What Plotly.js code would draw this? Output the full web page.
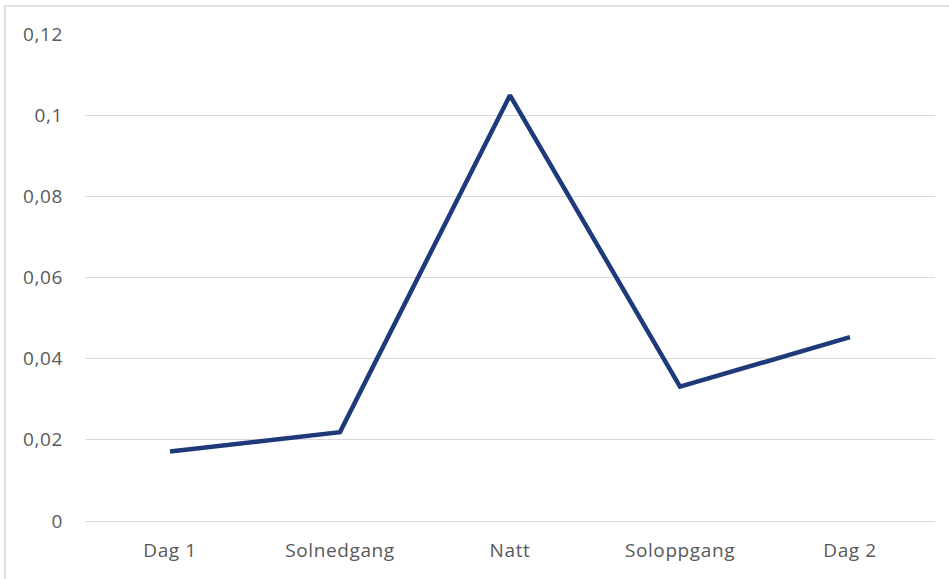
<!DOCTYPE html>
<html>
<head>
<meta charset="utf-8">
<script src="https://cdn.plot.ly/plotly-3.0.1.min.js"></script>
<style>
  html, body { margin: 0; padding: 0; background: #ffffff; }
  #chart { width: 949px; height: 579px; }
  .xtick text, .ytick text { letter-spacing: 0.6px; }
</style>
</head>
<body>
<div id="chart"></div>
<script>
const categories = ["Dag 1", "Solnedgang", "Natt", "Soloppgang", "Dag 2"];
const values = [0.0171, 0.0219, 0.1049, 0.0331, 0.0453];
const yTicks = [0, 0.02, 0.04, 0.06, 0.08, 0.1, 0.12];

const trace = {
  type: "scatter",
  mode: "lines",
  x: categories,
  y: values,
  line: { color: "#1f3a7a", width: 4.5 },
  hoverinfo: "x+y"
};

const layout = {
  width: 949,
  height: 579,
  margin: { l: 85, r: 14, t: 33.5, b: 58, pad: 0 },
  paper_bgcolor: "#ffffff",
  plot_bgcolor: "#ffffff",
  separators: ", ",
  showlegend: false,
  font: { family: "Open Sans, Lato, sans-serif", size: 19, color: "#595959" },
  xaxis: {
    type: "category",
    range: [-0.5, 4.5],
    showgrid: false,
    showline: false,
    zeroline: false,
    ticks: "",
    ticklabelstandoff: 16,
    tickfont: { family: "Open Sans, sans-serif", size: 19, color: "#595959" }
  },
  yaxis: {
    range: [0, 0.12],
    tickvals: yTicks,
    showgrid: true,
    gridcolor: "#d9d9d9",
    gridwidth: 1,
    zeroline: true,
    zerolinecolor: "#d9d9d9",
    zerolinewidth: 1,
    showline: false,
    ticks: "",
    ticklabelstandoff: 21,
    tickfont: { family: "Open Sans, sans-serif", size: 19, color: "#595959" }
  },
  shapes: [{
    type: "rect",
    xref: "paper", yref: "paper",
    x0: (5 - 85) / 850, x1: (960 - 85) / 850,
    y0: (521 - 590) / 487.5, y1: (521 - 5.5) / 487.5,
    line: { color: "#d9d9d9", width: 1.5 },
    fillcolor: "rgba(0,0,0,0)",
    layer: "below"
  }]
};

Plotly.newPlot("chart", [trace], layout, { displayModeBar: false, staticPlot: true });
</script>
</body>
</html>
